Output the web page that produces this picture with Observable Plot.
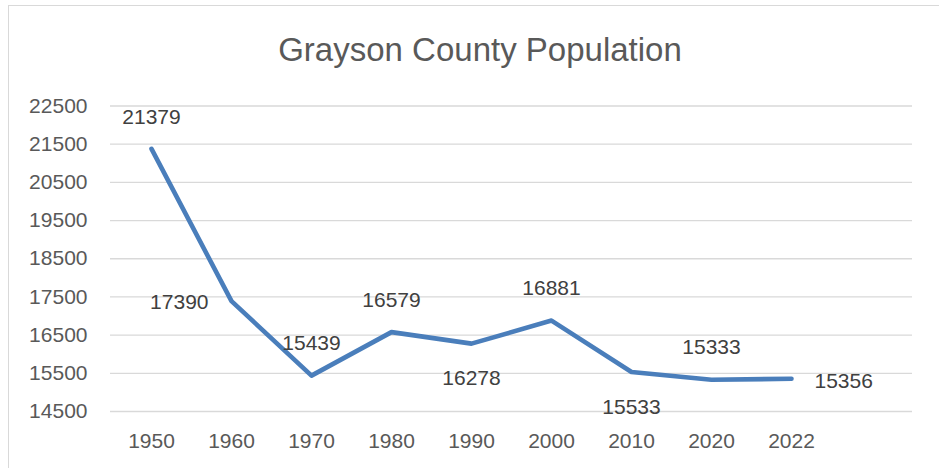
<!DOCTYPE html>
<html>
<head>
<meta charset="utf-8">
<script src="https://cdn.jsdelivr.net/npm/d3@7"></script>
<script src="https://cdn.jsdelivr.net/npm/@observablehq/plot@0.6"></script>
<style>
  html, body { margin: 0; padding: 0; background: #fff; }
  #wrap { position: relative; width: 939px; height: 468px; overflow: hidden; font-family: "Liberation Sans", Arial, sans-serif; }
  #border { position: absolute; left: 8px; top: 5px; width: 1000px; height: 600px; border-top: 1.5px solid #d9d9d9; border-left: 1.5px solid #d9d9d9; }
  #title { position: absolute; left: 0; width: 960px; top: 30px; line-height: 40px; font-size: 33px; color: #595959; text-align: center; }
  #chart { position: absolute; left: 0; top: 0; }
</style>
</head>
<body>
<div id="wrap">
  <div id="border"></div>
  <div id="title">Grayson County Population</div>
  <div id="chart"></div>
</div>
<script>
const years = ["1950", "1960", "1970", "1980", "1990", "2000", "2010", "2020", "2022"];
const population = [21379, 17390, 15439, 16579, 16278, 16881, 15533, 15333, 15356];
const yTicks = [14500, 15500, 16500, 17500, 18500, 19500, 20500, 21500, 22500];
const labelSide = ["top", "left", "top", "top", "bottom", "top", "bottom", "top", "right"];

const data = years.map((y, i) => ({year: y, pop: population[i], side: labelSide[i]}));

const labelFont = {fontSize: 21, fill: "#404040"};

const chart = Plot.plot({
  width: 939,
  height: 468,
  marginLeft: 110,
  marginRight: 27,
  marginTop: 105.5,
  marginBottom: 57,
  style: {fontFamily: "'Liberation Sans', Arial, sans-serif", background: "transparent", overflow: "visible"},
  x: {type: "point", domain: years, padding: 0.5, insetRight: 80.2, label: null},
  y: {domain: [14500, 22500], label: null},
  marks: [
    Plot.ruleY(yTicks, {stroke: "#d9d9d9", strokeWidth: 1.3}),
    Plot.axisY({ticks: yTicks, tickSize: 0, tickPadding: 23, fontSize: 21, fill: "#595959", label: null, tickFormat: d => String(d)}),
    Plot.axisX({tickSize: 0, tickPadding: 22, fontSize: 21, fill: "#595959", label: null}),
    Plot.line(data, {x: "year", y: "pop", stroke: "#4a7ebb", strokeWidth: 4.6, strokeLinecap: "round", strokeLinejoin: "round"}),
    Plot.text(data.filter(d => d.side === "top"), {x: "year", y: "pop", text: d => String(d.pop), dy: -32, ...labelFont}),
    Plot.text(data.filter(d => d.side === "bottom"), {x: "year", y: "pop", text: d => String(d.pop), dy: 35, ...labelFont}),
    Plot.text(data.filter(d => d.side === "left"), {x: "year", y: "pop", text: d => String(d.pop), dx: -23, dy: 1, textAnchor: "end", ...labelFont}),
    Plot.text(data.filter(d => d.side === "right"), {x: "year", y: "pop", text: d => String(d.pop), dx: 23, dy: 2, textAnchor: "start", ...labelFont})
  ]
});
document.getElementById("chart").appendChild(chart);
</script>
</body>
</html>
